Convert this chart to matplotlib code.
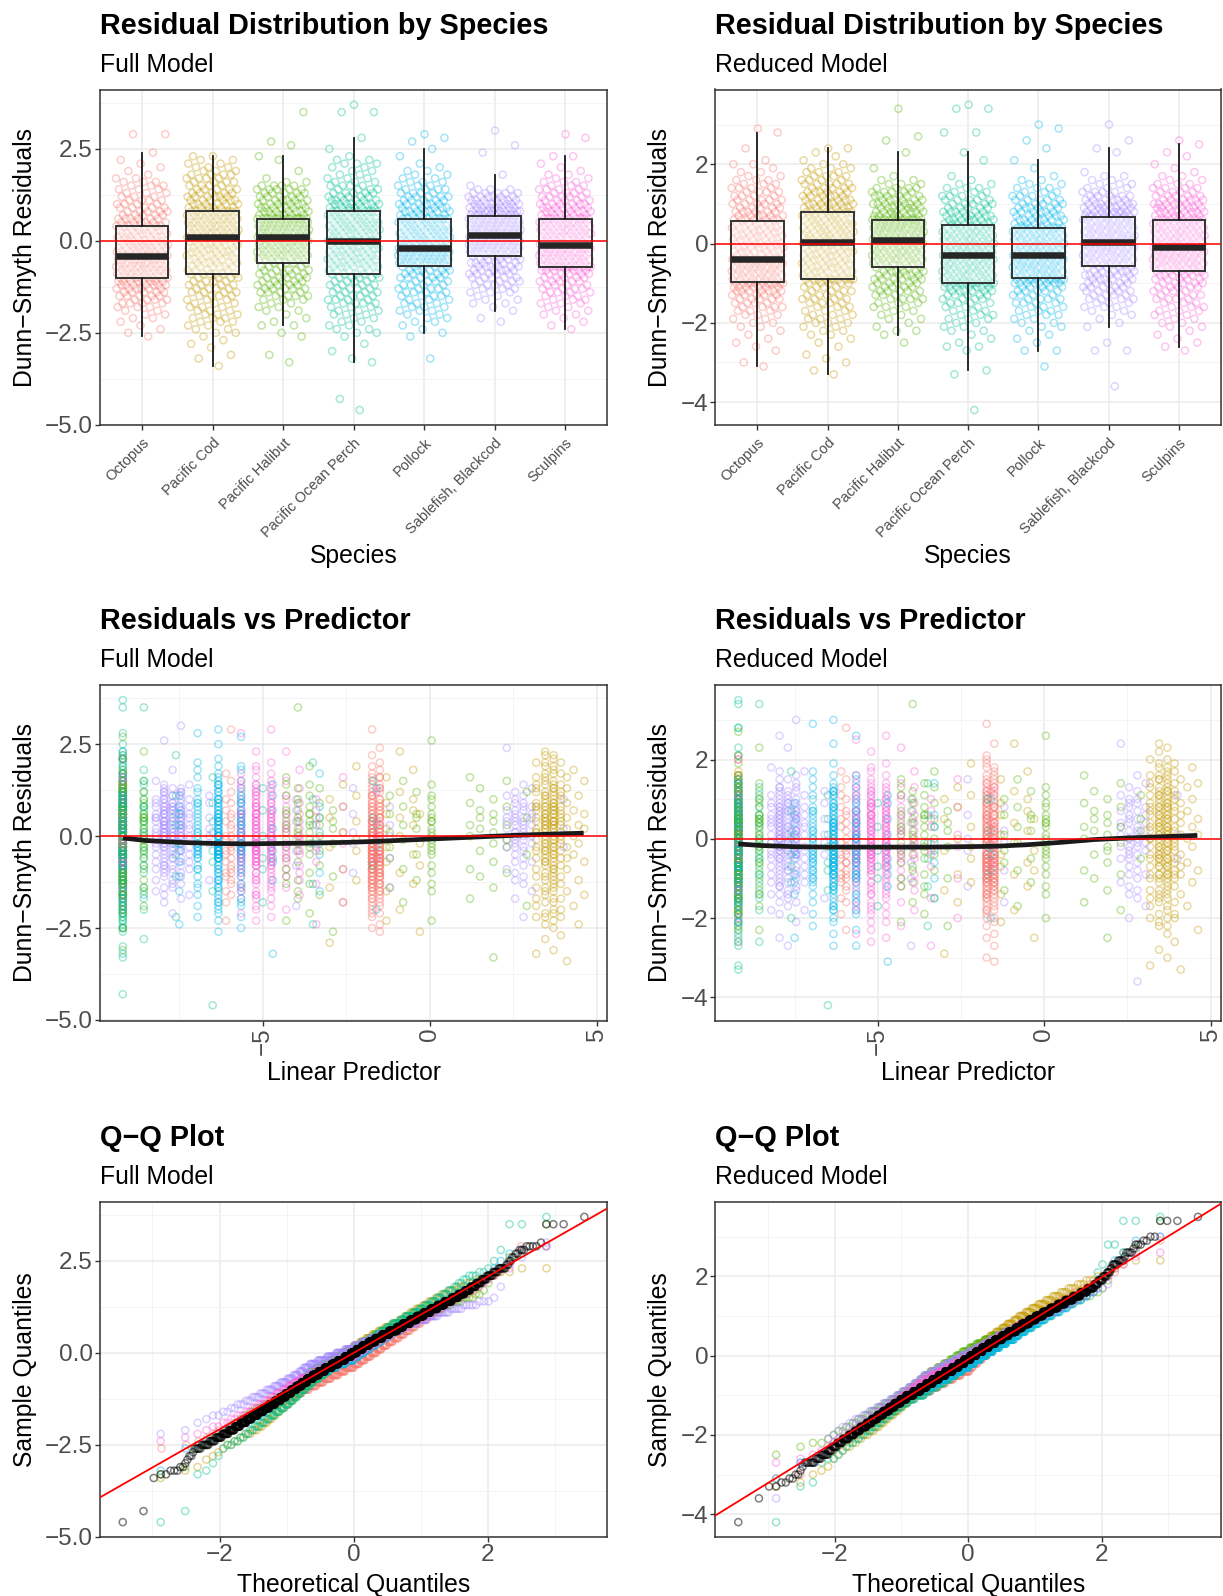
import numpy as np
import matplotlib
matplotlib.use("Agg")
import matplotlib.pyplot as plt
from statistics import NormalDist

plt.rcParams['font.family'] = ['Liberation Sans', 'DejaVu Sans']

species = ["Octopus", "Pacific Cod", "Pacific Halibut", "Pacific Ocean Perch",
           "Pollock", "Sablefish, Blackcod", "Sculpins"]
colors = ["#F8766D", "#C49A00", "#53B400", "#00C094", "#00B6EB", "#A58AFF", "#FB61D7"]

# Dunn-Smyth residuals per species, binned at 0.1: value of the first bin, then counts per bin
full_start = [-2.6, -3.4, -3.3, -4.6, -3.2, -2.2, -2.4]
full_counts = [
    [1,1,1,1,1,2,2,2,3,4,4,5,5,6,7,8,8, 9,9,10,10,10,12, 8,8,8,8,7,7,7,7,
     6,6,5,5,5,4,4,3,3,3,3,3,2,1,1,1,1,1,0,1,0,0,0,0,2],
    [1,0,1,1,0,1,1,1,1,2,2,2,3,3,3,3,3,3,3,4,4,4,4,4,4,6, 4,6,6,6,7,7,7,7,6,6,
     9,9,9,9,9,9,9, 6,6,6,6,5,5,4,4,4,4,3,3,2,2,2],
    [1,0,1,0,0,0,0,1,1,0,2,1,1,1,2,2,2,3,4,4,5,5,5,5,5,5,4,4, 7,9,9,9,9,9,11,
     10,12,13,13,14, 6,7,7,6,6,5,5,5,4,2,1,0,1,0,0,1,1,0,0,1,1,0,0,0,0,0,0,0,1],
    [1,0,0,1, 0,0,0,0,0,0,0,0,0, 1,1,0,1,0,1,0,1, 2,2,2,2,2, 3,3,3, 4,4,4,4,4,4,4,5,5,
     5,7,7,7,7,7,7,7,9, 6,8,8,8,8,8,7,9,
     6,8,6,5,5,4,4,3,3,2,2,2,3,2,1,0,1,0,0,1,0,0,0,0,0,0,2,0,1],
    [1,0,0,0,0,0,1,1,1,1,2,2,2,3,3,3,3,4,4,4,4,4,5,5,6,4, 12,12,13,13,13,
     7,8,8,8,8,8,7,9, 5,7,6,6,5,5,4,4,3,3,2,2,2,1,1,0,1,0,1,0,1,1,1],
    [1,1,0,1,1,2,2,2,3,3,4,4,5,5,6,6,6,5,7, 10,12,13,13,13, 12,12,13,13,12,
     10,10,9,8,7,6,5,3,1,0,0,1,0,0,0,0,0,1,0,1,0,0,0,1],
    [1,1,1,1,2,2,2,3,3,3,4,4,4,5,5,5,7,11, 8,10,11,11,11,12, 7,9,9,9,9,9,10,
     6,7,7,6,5,5,4,4,3,3,2,2,1,1,1,0,2,0,0,0,0,1,1],
]
reduced_start = [-3.1, -3.3, -2.5, -4.2, -3.1, -3.6, -2.7]
reduced_counts = [
    [1,1,0,0,1,1,1,1,1,1,2,2,2,3,3,4,4,5,5,7,7,11, 9,10,10,11,11,13, 5,7,7,7,7,7,7,7,6,
     7,6,6,5,5,5,4,4,4,3,3,2,2,1,2,1,0,0,1,0,0,0,1,1],
    [1,1,0,1,1,1,0,1,1,1,2,2,2,3,3,3,3,3,4,4,4,4,4,5,10, 5,7,7,7,7,7,7,7,7,
     8,8,8,8,8,8,7,8, 6,7,6,6,6,5,5,4,4,3,3,2,1,1,1,2],
    [1,0,1,2,1,1,2,2,2,3,3,4,4,5,5,5,6,6,6,5, 7,9,9,9,9,9,11, 10,12,13,13,14,
     7,8,7,7,6,6,5,4,3,2,1,0,1,0,0,0,1,0,0,1,1,0,0,0,0,0,0,1],
    [1,0,0,0,0,0,0,0,0,1,1,0,0,0,0,1,2,1,1,1,2,2,2,3,3,3,3,4,4,5,6,7,11,
     7,9,9,9,9,9,10, 8,9,9,9,9,9,8,
     7,7,7,6,5,5,5,4,3,3,2,1,1,0,0,0,1,0,1,0,0,0,0,2,0,0,0,0,0,2,1],
    [1,0,0,0,2,0,1,1,1,1,2,2,2,3,3,3,4,4,4,5,5,8,11, 9,10,11,11,11,11,
     8,9,9,9,9,9,10, 5,7,6,6,6,5,5,4,3,3,2,2,1,0,1,0,1,0,0,1,0,1,0,0,1,1],
    [1,0,0,0,0,0,0,0,0,2,0,1,0,0,0,1,1,1,2,2,3,3,4,4,5,5,5,6,6,6,5,
     9,10,10,11,11,11, 11,11,10,10,10,10,
     9,9,8,7,6,5,4,3,3,2,2,1,0,0,0,0,1,1,0,1,0,0,0,1],
    [1,1,1,1,1,1,2,2,2,3,3,3,3,4,4,4,5,5,5,6,7, 8,10,11,11,11,11,
     8,9,9,9,9,9,10, 6,8,7,7,6,5,4,4,3,2,2,1,1,1,0,1,1,0,1,1],
]

# linear predictor levels for each species and how many hauls sit at each level
pred_levels = [
    [-9.19, -6.1, -5.95, -1.73, -1.5],
    [-9.19, -3.0, -2.6, -2.2, -1.3, -0.9, -0.5, -0.3, 3.18, 3.45, 3.7, 3.92, 4.1, 4.3, 4.45, 4.62],
    [-9.19, -8.56, -4.3, -3.95, -3.6, -3.3, -2.9, -1.2, -0.8, -0.4, 0.05, 1.2, 1.5, 1.9, 2.3, 2.9],
    [-9.19, -8.56, -7.6, -6.5, -5.0, -3.5, -1.7],
    [-9.19, -7.5, -6.95, -6.33, -5.65, -4.7, -3.3, -1.6],
    [-9.19, -8.2, -7.95, -7.7, -7.45, -7.2, -6.6, -4.0, -2.3, -1.2, 2.3, 2.55, 2.8, 3.05, 4.0],
    [-9.19, -5.65, -5.2, -4.75, -4.3, -3.9, -3.4, -2.6, -1.6],
]
pred_weights = [
    [35, 15, 20, 100, 80],
    [30, 5, 5, 6, 8, 6, 6, 4, 25, 50, 55, 25, 10, 5, 5, 5],
    [70, 25, 15, 15, 15, 8, 6, 6, 6, 6, 20, 6, 6, 8, 6, 4],
    [190, 25, 8, 8, 6, 6, 4],
    [30, 10, 40, 90, 50, 10, 8, 6],
    [10, 20, 40, 40, 40, 15, 8, 8, 6, 6, 10, 20, 20, 10, 4],
    [25, 40, 70, 55, 20, 15, 10, 6, 4],
]

# loess trend of residuals against the linear predictor
smooth_x = [-9.19, -8.5, -7.5, -6.5, -5.5, -4.5, -3.5, -2.5, -1.5, -0.5, 0.5, 1.5, 2.5, 3.5, 4.6]
smooth_full = [-0.05, -0.12, -0.17, -0.2, -0.21, -0.2, -0.19, -0.17, -0.14, -0.1, -0.06, -0.02, 0.02, 0.05, 0.08]
smooth_reduced = [-0.13, -0.17, -0.2, -0.21, -0.21, -0.21, -0.21, -0.2, -0.19, -0.15, -0.09, -0.02, 0.02, 0.05, 0.085]


def expand(start, counts):
    vals = np.round(start + 0.1 * np.arange(len(counts)), 2)
    return np.repeat(vals, counts)


def golden(n):
    return ((np.arange(n) + 1) * 0.6180339887) % 1.0


def predictor(levels, weights, n):
    w = np.array(weights, float)
    c = np.floor(w / w.sum() * n).astype(int)
    c[np.argmax(w)] += n - c.sum()
    x = np.repeat(levels, c)
    return x[np.argsort(golden(n))]


def qq_x(n):
    nd = NormalDist()
    return np.array([nd.inv_cdf((i - 0.5) / n) for i in range(1, n + 1)])


def minus(s):
    return s.replace("-", "\u2212")


def limits(v):
    lo, hi = np.min(v), np.max(v)
    pad = (hi - lo) * 0.05
    return lo - pad, hi + pad


W, H = 1223, 1596
fig = plt.figure(figsize=(W / 100, H / 100), dpi=100)
fig.patch.set_facecolor("white")

COLS = [(99.7, 607.4), (715.3, 1221.0)]
ROWS = [(89.5, 425.3), (684.8, 1020.5), (1201.6, 1537.4)]
YLAB_X = [25.0, 660.0]
XLAB_Y = [556.0, 1073.0, 1585.0]
PT_ALPHA = 0.36


def make_axes(col, row):
    x0, x1 = COLS[col]
    t, b = ROWS[row]
    ax = fig.add_axes([x0 / W, 1 - b / H, (x1 - x0) / W, (b - t) / H])
    for sp in ax.spines.values():
        sp.set_color("#333333")
        sp.set_linewidth(1.1)
    ax.tick_params(which="major", length=3.5, width=1.0, color="#333333",
                   labelcolor="#4D4D4D", labelsize=17.5, pad=1.5)
    ax.tick_params(which="minor", length=0)
    ax.grid(which="major", color="#EBEBEB", lw=1.1)
    ax.grid(which="minor", color="#F3F3F3", lw=0.6)
    ax.set_axisbelow(True)
    return ax


def headings(col, row, title, sub, ylab, xlab):
    x0, x1 = COLS[col]
    t, b = ROWS[row]
    fig.text(x0 / W, 1 - (t - 56) / H, title, fontsize=20.8, fontweight="bold",
             ha="left", va="baseline", color="black")
    fig.text(x0 / W, 1 - (t - 18) / H, sub, fontsize=17.8, ha="left", va="baseline")
    fig.text(YLAB_X[col] / W, 1 - ((t + b) / 2) / H, ylab, rotation=90,
             fontsize=17.8, ha="center", va="center")
    fig.text(((x0 + x1) / 2) / W, 1 - XLAB_Y[row] / H, xlab, fontsize=17.8,
             ha="center", va="center")


def set_y(ax, ylim, major, fmt):
    ax.set_ylim(*ylim)
    ax.set_yticks(major)
    ax.set_yticklabels([minus(fmt.format(v)) for v in major])
    step = major[1] - major[0]
    minor = np.arange(major[0] - step / 2, ylim[1], step)
    ax.set_yticks([m for m in minor if ylim[0] < m < ylim[1]], minor=True)


models = [
    ("Full Model", full_start, full_counts, smooth_full, [-5.0, -2.5, 0.0, 2.5], "{:.1f}"),
    ("Reduced Model", reduced_start, reduced_counts, smooth_reduced, [-4, -2, 0, 2], "{:.0f}"),
]

for col, (name, starts, counts, smooth_y, yt, yfmt) in enumerate(models):
    res = [expand(s, c) for s, c in zip(starts, counts)]
    allres = np.concatenate(res)
    ylim = limits(allres)

    # ---- residual distribution by species ----
    ax = make_axes(col, 0)
    xs, ys, cs = [], [], []
    for k, r in enumerate(res):
        xs.append(k + 1 + (golden(len(r)) - 0.5) * 0.74)
        ys.append(r)
        cs += [colors[k]] * len(r)
    xs = np.concatenate(xs)
    ys = np.concatenate(ys)
    order = np.argsort(golden(len(xs)))
    ax.scatter(xs[order], ys[order], s=26, facecolors="none",
               edgecolors=np.array(cs)[order], linewidths=1.1, alpha=PT_ALPHA, zorder=2)
    ax.boxplot(res, positions=np.arange(1, 8), widths=0.75, whis=1.5,
               showfliers=False, showcaps=False, patch_artist=True,
               boxprops=dict(facecolor=(1, 1, 1, 0.5), edgecolor="#333333", lw=1.4),
               medianprops=dict(color="#262626", lw=4.7, solid_capstyle="butt"),
               whiskerprops=dict(color="#1a1a1a", lw=1.3), zorder=3)
    ax.axhline(0, color="red", lw=1.1, zorder=4)
    ax.set_xlim(0.4, 7.6)
    ax.set_xticks(np.arange(1, 8))
    ax.set_xticklabels(species, rotation=45, ha="right", va="top",
                       rotation_mode="anchor", fontsize=10.5, color="#4D4D4D")
    ax.tick_params(axis="x", pad=4)
    set_y(ax, ylim, yt, yfmt)
    headings(col, 0, "Residual Distribution by Species", name,
             "Dunn\u2212Smyth Residuals", "Species")

    # ---- residuals vs linear predictor ----
    ax = make_axes(col, 1)
    px = np.concatenate([predictor(pred_levels[k], pred_weights[k], len(r))
                         for k, r in enumerate(res)])
    ax.scatter(px[order], allres[order], s=26, facecolors="none",
               edgecolors=np.array(cs)[order], linewidths=1.1, alpha=PT_ALPHA, zorder=2)
    ax.plot(smooth_x, smooth_y, color="#1a1a1a", lw=3.4, zorder=3,
            solid_capstyle="butt")
    ax.axhline(0, color="red", lw=1.1, zorder=4)
    ax.set_xlim(*limits(px))
    ax.set_xticks([-5, 0, 5])
    ax.set_xticklabels([minus(str(v)) for v in [-5, 0, 5]], rotation=90,
                       ha="center", va="top")
    ax.set_xticks([-7.5, -2.5, 2.5], minor=True)
    set_y(ax, ylim, yt, yfmt)
    headings(col, 1, "Residuals vs Predictor", name,
             "Dunn\u2212Smyth Residuals", "Linear Predictor")

    # ---- normal Q-Q plot ----
    ax = make_axes(col, 2)
    for k, r in enumerate(res):
        ax.scatter(qq_x(len(r)), np.sort(r), s=26, facecolors="none",
                   edgecolors=colors[k], linewidths=1.1, alpha=0.4, zorder=2)
    zq = qq_x(len(allres))
    ax.scatter(zq, np.sort(allres), s=26, facecolors="none", edgecolors="black",
               linewidths=1.1, alpha=0.5, zorder=3)
    q1, q3 = np.percentile(allres, [25, 75])
    z1, z3 = NormalDist().inv_cdf(0.25), NormalDist().inv_cdf(0.75)
    slope = (q3 - q1) / (z3 - z1)
    ax.axline((0, q1 - slope * z1), slope=slope, color="red", lw=1.3, zorder=4)
    ax.set_xlim(*limits(zq))
    ax.set_xticks([-2, 0, 2])
    ax.set_xticklabels([minus(str(v)) for v in [-2, 0, 2]])
    ax.set_xticks([-3, -1, 1, 3], minor=True)
    set_y(ax, ylim, yt, yfmt)
    headings(col, 2, "Q\u2212Q Plot", name, "Sample Quantiles", "Theoretical Quantiles")

fig.savefig("out.png", dpi=100)
